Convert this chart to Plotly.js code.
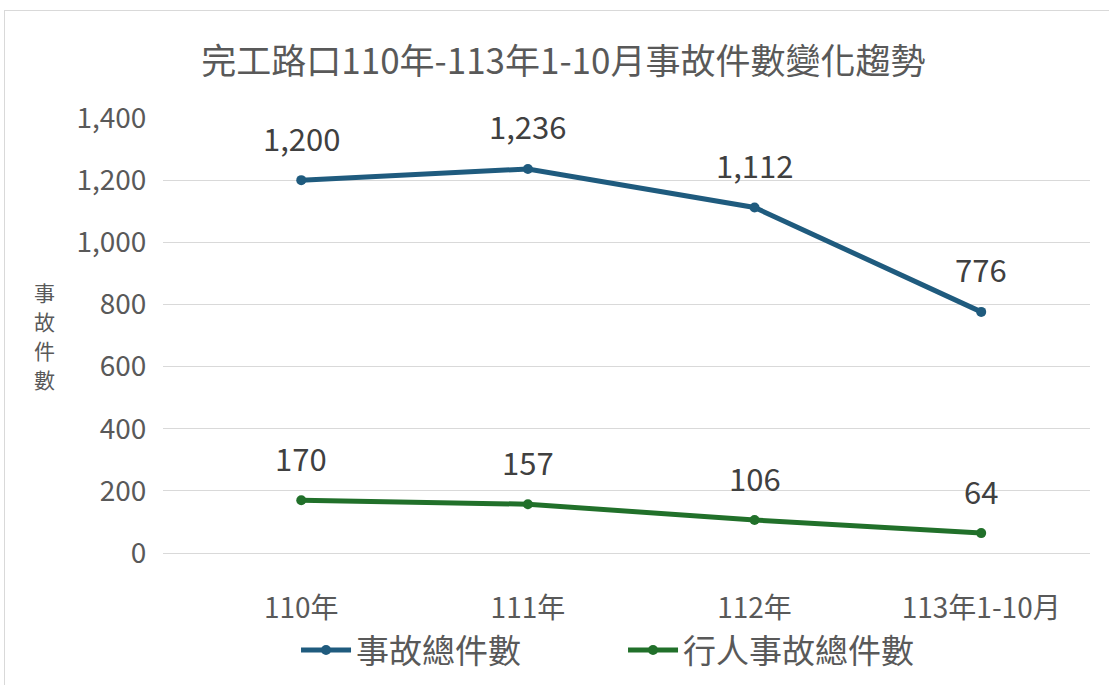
<!DOCTYPE html>
<html>
<head>
<meta charset="utf-8">
<script src="https://cdn.plot.ly/plotly-3.0.1.min.js"></script>
<style>
html,body{margin:0;padding:0;background:#fff;}
#wrap{position:relative;width:1109px;height:685px;}
#chart{width:1109px;height:685px;}
#frame{position:absolute;left:4px;top:10px;width:1110px;height:680px;border:1px solid #d9d9d9;pointer-events:none;box-sizing:border-box;}
</style>
</head>
<body>
<div id="wrap"><div id="chart"></div><div id="frame"></div></div>
<script>
const categories = ['110年', '111年', '112年', '113年1-10月'];
const totalAccidents = [1200, 1236, 1112, 776];
const pedestrianAccidents = [170, 157, 106, 64];
const seriesNames = ['事故總件數', '行人事故總件數'];
const yTickVals = [0, 200, 400, 600, 800, 1000, 1200, 1400];
const yTitleChars = ['事', '故', '件', '數'];

const FONT = '"Noto Sans CJK TC", "Noto Sans", sans-serif';
const blue = '#1f5b7e';
const green = '#21702a';

const traces = [
  {x: categories, y: totalAccidents, name: seriesNames[0], type: 'scatter', mode: 'lines+markers',
   line: {color: blue, width: 5}, marker: {color: blue, size: 10}},
  {x: categories, y: pedestrianAccidents, name: seriesNames[1], type: 'scatter', mode: 'lines+markers',
   line: {color: green, width: 5}, marker: {color: green, size: 10}}
];

const annotations = [];
[totalAccidents, pedestrianAccidents].forEach(arr => {
  arr.forEach((v, i) => {
    annotations.push({x: categories[i], y: v, xref: 'x', yref: 'y', text: v.toLocaleString('en-US'),
      showarrow: false, yshift: 43, font: {family: FONT, size: 31, color: '#404040'}});
  });
});
yTitleChars.forEach((ch, i) => {
  annotations.push({xref: 'paper', yref: 'paper', x: -0.128, y: 0.5, xanchor: 'center', yanchor: 'middle',
    yshift: (1.5 - i) * 29, text: ch, showarrow: false, font: {family: FONT, size: 21, color: '#595959'}});
});

const layout = {
  width: 1109, height: 685,
  margin: {l: 163, r: 19, t: 118, b: 132, autoexpand: false},
  paper_bgcolor: '#fff', plot_bgcolor: '#fff',
  title: {text: '完工路口110年-113年1-10月事故件數變化趨勢', x: 0.508, xanchor: 'center', y: 0.91, yanchor: 'middle',
    font: {family: FONT, size: 35, color: '#595959'}},
  xaxis: {type: 'category', range: [-0.61, 3.48], showgrid: false, zeroline: false, showline: false,
    ticks: 'outside', ticklen: 30, tickcolor: 'rgba(0,0,0,0)',
    tickfont: {family: FONT, size: 28, color: '#595959'}},
  yaxis: {range: [0, 1400], tickvals: yTickVals, tickformat: ',d', showgrid: true, gridcolor: '#d9d9d9', gridwidth: 1,
    zeroline: true, zerolinecolor: '#d9d9d9', showline: false,
    ticks: 'outside', ticklen: 10, tickcolor: 'rgba(0,0,0,0)',
    tickfont: {family: FONT, size: 28, color: '#595959'}},
  showlegend: true,
  legend: {orientation: 'h', x: 0.1435, xanchor: 'left', y: -0.223, yanchor: 'middle',
    font: {family: FONT, size: 33, color: '#595959'}, itemwidth: 50,
    entrywidth: 262, entrywidthmode: 'pixels'},
  annotations: annotations
};

Plotly.newPlot('chart', traces, layout, {displayModeBar: false, staticPlot: true});
</script>
</body>
</html>
